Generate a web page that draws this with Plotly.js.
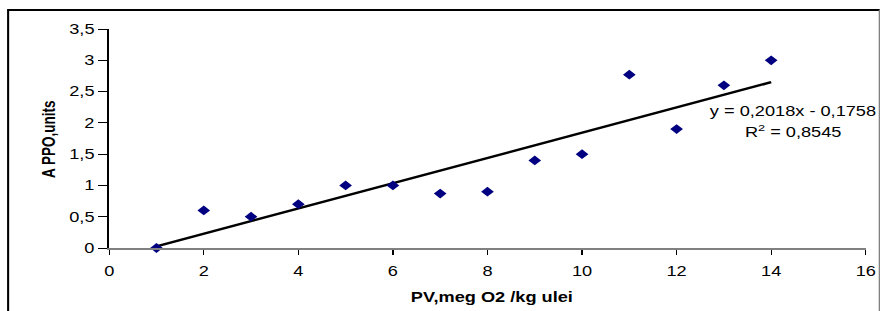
<!DOCTYPE html>
<html>
<head>
<meta charset="utf-8">
<script src="https://cdn.plot.ly/plotly-3.0.1.min.js"></script>
<style>
html,body{margin:0;padding:0;background:#fff;overflow:hidden;width:880px;height:311px;}
#chart{width:677px;height:311px;transform:scaleX(1.2999);transform-origin:0 0;}
</style>
</head>
<body>
<div id="chart"></div>
<script>
// Data
const pvValues = [1, 2, 3, 4, 5, 6, 7, 8, 9, 10, 11, 12, 13, 14];
const ppoValues = [0, 0.6, 0.5, 0.7, 1.0, 1.0, 0.87, 0.9, 1.4, 1.5, 2.77, 1.9, 2.6, 3.0];
const xTickVals = [0, 2, 4, 6, 8, 10, 12, 14, 16];
const yTickVals = [0, 0.5, 1, 1.5, 2, 2.5, 3, 3.5];
const xTickText = ['0', '2', '4', '6', '8', '10', '12', '14', '16'];
const yTickText = ['0', '0,5', '1', '1,5', '2', '2,5', '3', '3,5'];
const equationText = 'y = 0,2018x - 0,1758';
const r2Text = 'R<sup>2</sup> = 0,8545';
const xTitle = 'PV,meg O2 /kg ulei';
const yTitle = 'A PPO,units';

// Linear least-squares trendline from the data
const n = pvValues.length;
const mx = pvValues.reduce((a, b) => a + b, 0) / n;
const my = ppoValues.reduce((a, b) => a + b, 0) / n;
let sxy = 0, sxx = 0;
for (let i = 0; i < n; i++) { sxy += (pvValues[i] - mx) * (ppoValues[i] - my); sxx += (pvValues[i] - mx) ** 2; }
const slope = sxy / sxx;
const intercept = my - slope * mx;
const trendX = [pvValues[0], pvValues[n - 1]];
const trendY = trendX.map(x => slope * x + intercept);

const font = 'Liberation Sans, Arial, sans-serif';

const traces = [
  {
    x: trendX, y: trendY, mode: 'lines', type: 'scatter',
    line: {color: '#000000', width: 2.4}, hoverinfo: 'skip', showlegend: false
  },
  {
    x: pvValues, y: ppoValues, mode: 'markers', type: 'scatter',
    marker: {symbol: 'diamond', size: 7.5, color: '#000080'}, showlegend: false, cliponaxis: false
  }
];

// paper coordinates in final (stretched) pixels: plot area x 109..865, y 29..248
const px = v => (v - 109) / 756;
const py = v => (248 - v) / 219;

const layout = {
  width: 677, height: 311,
  margin: {l: 84, r: 11, t: 29, b: 63, pad: 0},
  paper_bgcolor: '#ffffff', plot_bgcolor: '#ffffff',
  font: {family: font, size: 14, color: '#000000'},
  showlegend: false,
  xaxis: {
    range: [0, 16], tickvals: xTickVals, ticktext: xTickText,
    showgrid: false, zeroline: false, showline: true, linecolor: '#808080', linewidth: 2,
    ticks: 'outside', ticklen: 5, tickcolor: '#000000', tickwidth: 1,
    ticklabelstandoff: 4,
    tickfont: {family: font, size: 14, color: '#000000'},
    fixedrange: true
  },
  yaxis: {
    range: [0, 3.5], tickvals: yTickVals, ticktext: yTickText,
    showgrid: false, zeroline: false, showline: true, linecolor: '#000000', linewidth: 1.5,
    ticks: 'outside', ticklen: 7, tickcolor: '#000000', tickwidth: 1,
    tickfont: {family: font, size: 14, color: '#000000'},
    fixedrange: true
  },
  annotations: [
    {xref: 'paper', yref: 'paper', x: px(792), y: py(111), text: equationText, showarrow: false,
     xanchor: 'center', yanchor: 'middle', font: {family: font, size: 14, color: '#000000'}},
    {xref: 'paper', yref: 'paper', x: px(793), y: py(130.5), text: r2Text, showarrow: false,
     xanchor: 'center', yanchor: 'middle', font: {family: font, size: 14, color: '#000000'}},
    {xref: 'paper', yref: 'paper', x: px(492), y: py(297), text: '<b>' + xTitle + '</b>', showarrow: false,
     xanchor: 'center', yanchor: 'middle', font: {family: font, size: 14, color: '#000000'}},
    {xref: 'paper', yref: 'paper', x: px(48), y: py(139), text: '<b>' + yTitle + '</b>', showarrow: false,
     textangle: -90, xanchor: 'center', yanchor: 'middle', font: {family: font, size: 13.5, color: '#000000'}}
  ],
  shapes: [
    {type: 'line', xref: 'paper', yref: 'paper', x0: px(8), x1: px(8), y0: py(10), y1: py(330), line: {color: '#000000', width: 1.6}},
    {type: 'line', xref: 'paper', yref: 'paper', x0: px(7), x1: px(879), y0: py(10), y1: py(10), line: {color: '#000000', width: 2}},
    {type: 'line', xref: 'paper', yref: 'paper', x0: px(879), x1: px(879), y0: py(10), y1: py(330), line: {color: '#808080', width: 1.6}}
  ]
};

Plotly.newPlot('chart', traces, layout, {displayModeBar: false, staticPlot: true});
</script>
</body>
</html>
